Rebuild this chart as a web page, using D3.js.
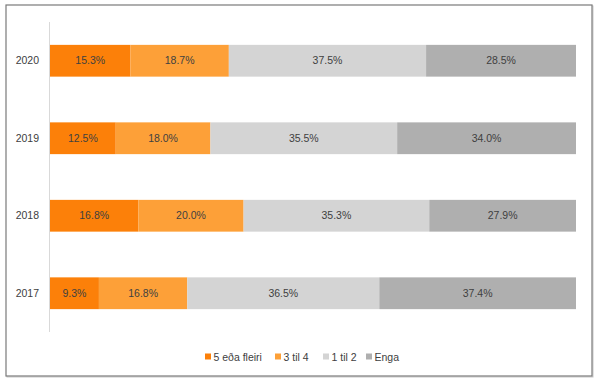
<!DOCTYPE html>
<html>
<head>
<meta charset="utf-8">
<script src="https://cdn.jsdelivr.net/npm/d3@7"></script>
<style>
  body { margin: 0; background: #fff; }
  text { font-family: "Liberation Sans", "DejaVu Sans", sans-serif; }
</style>
</head>
<body>
<div id="chart"></div>
<script>
// data
var years = ["2020", "2019", "2018", "2017"];
var seriesNames = ["5 eða fleiri", "3 til 4", "1 til 2", "Enga"];
var fivePlus = [15.3, 12.5, 16.8, 9.3];
var threeToFour = [18.7, 18.0, 20.0, 16.8];
var oneToTwo = [37.5, 35.5, 35.3, 36.5];
var none = [28.5, 34.0, 27.9, 37.4];
var colors = ["#fc8009", "#fda038", "#d4d4d4", "#afafaf"];

var W = 599, H = 386;
var margin = {left: 50, right: 23, top: 22, bottom: 54};

var rows = years.map(function(y, i) {
  return {year: y, "5 eða fleiri": fivePlus[i], "3 til 4": threeToFour[i], "1 til 2": oneToTwo[i], "Enga": none[i]};
});
var stacked = d3.stack().keys(seriesNames)(rows);

var svg = d3.select("#chart").append("svg")
    .attr("width", W).attr("height", H);

// outer frame
svg.append("rect").attr("x", 7).attr("y", 6).attr("width", 586).attr("height", 371)
    .attr("fill", "none").attr("stroke", "#c8c8c8").attr("stroke-width", 1);
svg.append("rect").attr("x", 6).attr("y", 5).attr("width", 586).attr("height", 371)
    .attr("fill", "#fff").attr("stroke", "#7a7a7a").attr("stroke-width", 1.2);

var x = d3.scaleLinear().domain([0, 100]).range([margin.left, W - margin.right]);
var y = d3.scaleBand().domain(years).range([margin.top, H - margin.bottom]).paddingInner(0.59).paddingOuter(0.295);

var g = svg.append("g");
var layer = g.selectAll("g.layer").data(stacked).enter().append("g")
    .attr("fill", function(d, i) { return colors[i]; });

layer.selectAll("rect").data(function(d) { return d; }).enter().append("rect")
    .attr("x", function(d) { return x(d[0]); })
    .attr("y", function(d) { return y(d.data.year); })
    .attr("width", function(d) { return x(d[1]) - x(d[0]); })
    .attr("height", y.bandwidth());

layer.selectAll("text").data(function(d) { return d; }).enter().append("text")
    .attr("x", function(d) { return (x(d[0]) + x(d[1])) / 2; })
    .attr("y", function(d) { return y(d.data.year) + y.bandwidth() / 2; })
    .attr("dy", "0.35em")
    .attr("text-anchor", "middle")
    .attr("font-size", 10.5)
    .attr("fill", "#404040")
    .text(function(d) { return (d[1] - d[0]).toFixed(1) + "%"; });

// y axis line + labels
svg.append("line").attr("x1", margin.left - 0.5).attr("x2", margin.left - 0.5)
    .attr("y1", margin.top).attr("y2", H - margin.bottom)
    .attr("stroke", "#d9d9d9").attr("stroke-width", 1);
svg.selectAll("text.ylab").data(years).enter().append("text").attr("class", "ylab")
    .attr("x", 39).attr("y", function(d) { return y(d) + y.bandwidth() / 2; })
    .attr("dy", "0.35em").attr("text-anchor", "end")
    .attr("font-size", 10.5).attr("fill", "#404040")
    .text(function(d) { return d; });

// legend
var legendX = [205, 275, 323, 366];
var leg = svg.selectAll("g.leg").data(seriesNames).enter().append("g")
    .attr("transform", function(d, i) { return "translate(" + legendX[i] + ",357)"; });
leg.append("rect").attr("x", 0).attr("y", -3.5).attr("width", 6).attr("height", 6)
    .attr("fill", function(d, i) { return colors[i]; });
leg.append("text").attr("x", 8.5).attr("dy", "0.35em")
    .attr("font-size", 10.5).attr("fill", "#404040")
    .text(function(d) { return d; });
</script>
</body>
</html>
